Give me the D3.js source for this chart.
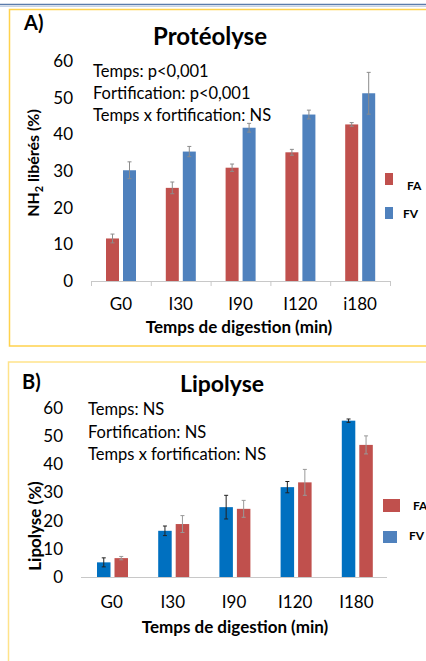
<!DOCTYPE html>
<html><head><meta charset="utf-8">
<script src="https://cdn.jsdelivr.net/npm/d3@7"></script>
<style>
html,body{margin:0;padding:0;background:#fff;}
svg{display:block;font-family:Lato,"Open Sans",sans-serif;}
</style></head>
<body>
<svg id="c" width="426" height="661"></svg>
<script>
// ---- data ----
const categoriesA = ["G0","I30","I90","I120","i180"];
const categoriesB = ["G0","I30","I90","I120","I180"];
const yTicks = [0,10,20,30,40,50,60];
// Panel A: Protéolyse (NH2 libérés %)
const protFA = [11.6, 25.4, 30.9, 35.1, 42.7];
const protFAerr = [1.2, 1.6, 1.0, 0.8, 0.5];
const protFV = [30.2, 35.3, 41.8, 45.4, 51.2];
const protFVerr = [2.3, 1.4, 1.2, 1.2, 5.7];
// Panel B: Lipolyse (%)
const lipoFV = [5.2, 16.4, 24.8, 31.9, 55.5];
const lipoFVerr = [1.6, 1.7, 4.2, 2.0, 0.6];
const lipoFA = [6.7, 18.8, 24.2, 33.6, 46.9];
const lipoFAerr = [0.6, 3.0, 3.0, 4.6, 3.2];
const annotA = ["Temps: p<0,001","Fortification: p<0,001","Temps x fortification: NS"];
const annotB = ["Temps: NS","Fortification: NS","Temps x fortification: NS"];

const svg = d3.select("#c");

// top decoration line
svg.append("line").attr("x1",0).attr("x2",426).attr("y1",4.5).attr("y2",4.5).attr("stroke","#5b7cab").attr("stroke-width",1.5);
svg.append("line").attr("x1",0).attr("x2",426).attr("y1",6.5).attr("y2",6.5).attr("stroke","#c5d3e6").attr("stroke-width",1);

// panel borders
svg.append("path").attr("d","M440,9.5 H9.5 V346 H440").attr("fill","none").attr("stroke","#ffd24d").attr("stroke-width",1.5);
svg.append("path").attr("d","M440,362 H8.5 V680").attr("fill","none").attr("stroke","#ffe38a").attr("stroke-width",1.5);

function panel(cfg){
  const g = svg.append("g");
  const x = d3.scaleBand().domain(cfg.cats).range(cfg.xr);
  const sub = d3.scaleBand().domain(cfg.series.map(s=>s.name)).range(cfg.subr).paddingInner(cfg.subpad);
  const y = d3.scaleLinear().domain([0,60]).range(cfg.yr);

  // y axis labels
  const ya = d3.axisLeft(y).tickValues(yTicks).tickSize(0).tickPadding(0);
  const yg = g.append("g").attr("transform",`translate(${cfg.yLabelX},0)`).call(ya);
  yg.select(".domain").remove();
  yg.selectAll("text").attr("font-size",17).attr("fill","#000").attr("font-family","Lato,sans-serif");

  // x axis line
  g.append("line").attr("x1",cfg.xr[0]).attr("x2",cfg.xr[1]).attr("y1",y(0)+0.5).attr("y2",y(0)+0.5).attr("stroke","#c8c8c8").attr("stroke-width",1);
  if(cfg.boundaryTicks){
    const b = cfg.cats.map(c=>x(c)).concat([x(cfg.cats[cfg.cats.length-1])+x.bandwidth()]);
    g.selectAll(".bt").data(b).join("line").attr("x1",d=>d+0.5).attr("x2",d=>d+0.5)
      .attr("y1",y(0)).attr("y2",y(0)+5).attr("stroke","#c8c8c8");
  }
  const xa = d3.axisBottom(x).tickSize(0).tickPadding(0);
  const xg = g.append("g").attr("transform",`translate(0,${cfg.xLabelY})`).call(xa);
  xg.select(".domain").remove();
  xg.selectAll("text").attr("font-size",17).attr("fill","#000").attr("dy",0).attr("font-family","Lato,sans-serif");

  // bars
  cfg.series.forEach(s=>{
    const gs = g.append("g");
    gs.selectAll("rect").data(cfg.cats).join("rect")
      .attr("x",(c)=>x(c)+sub(s.name)).attr("width",sub.bandwidth())
      .attr("y",(c,i)=>y(s.values[i])).attr("height",(c,i)=>y(0)-y(s.values[i]))
      .attr("fill",s.color);
    const eb = gs.selectAll("g.eb").data(cfg.cats).join("g").attr("stroke",s.errColor).attr("stroke-width",1);
    eb.append("line").attr("x1",(c)=>x(c)+sub(s.name)+sub.bandwidth()/2).attr("x2",(c)=>x(c)+sub(s.name)+sub.bandwidth()/2)
      .attr("y1",(c,i)=>y(s.values[i]+s.err[i])).attr("y2",(c,i)=>y(s.values[i]-s.err[i]));
    [1,-1].forEach(k=>{
      eb.append("line").attr("x1",(c)=>x(c)+sub(s.name)+sub.bandwidth()/2-2).attr("x2",(c)=>x(c)+sub(s.name)+sub.bandwidth()/2+2)
        .attr("y1",(c,i)=>y(s.values[i]+k*s.err[i])).attr("y2",(c,i)=>y(s.values[i]+k*s.err[i]));
    });
  });

  // titles
  g.append("text").attr("x",cfg.letter[0]).attr("y",cfg.letter[1]).text(cfg.letterText).attr("font-size",20).attr("font-weight","bold");
  g.append("text").attr("x",cfg.title[0]).attr("y",cfg.title[1]).attr("text-anchor","middle").text(cfg.titleText).attr("font-size",cfg.titleSize).attr("font-weight","bold");
  g.append("text").attr("x",cfg.xTitle[0]).attr("y",cfg.xTitle[1]).attr("text-anchor","middle").text("Temps de digestion (min)").attr("font-size",17).attr("font-weight","bold");
  const yt = g.append("text").attr("transform",`translate(${cfg.yTitle[0]},${cfg.yTitle[1]}) rotate(-90)`).attr("text-anchor","middle").attr("font-size",cfg.yTitleSize).attr("font-weight","bold");
  cfg.yTitleParts(yt);

  // annotations
  g.selectAll(".an").data(cfg.annot).join("text").attr("x",cfg.annotX).attr("y",(d,i)=>cfg.annotY+i*cfg.annotDy)
    .text(d=>d).attr("font-size",16.5);

  // legend
  cfg.legend.forEach(l=>{
    g.append("rect").attr("x",l.r[0]).attr("y",l.r[1]).attr("width",l.r[2]).attr("height",l.r[3]).attr("fill",l.color);
    g.append("text").attr("x",l.t[0]).attr("y",l.t[1]).text(l.name).attr("font-size",12).attr("font-weight","bold");
  });
}

panel({
  cats: categoriesA, xr:[91,390], subr:[15,45], subpad:4/17, yr:[281,61], yLabelX:73, xLabelY:310,
  boundaryTicks:true,
  series:[{name:"FA",values:protFA,err:protFAerr,color:"#c0504d",errColor:"#8c8c8c"},
          {name:"FV",values:protFV,err:protFVerr,color:"#4f81bd",errColor:"#8c8c8c"}],
  letter:[24,30], letterText:"A)", title:[210,45], titleText:"Protéolyse", titleSize:24,
  xTitle:[239,333], yTitle:[39,163], yTitleSize:16,
  yTitleParts: t=>{ t.append("tspan").text("NH"); t.append("tspan").text("2").attr("font-size",11).attr("dy",4);
                    t.append("tspan").text(" libérés  (%)").attr("dy",-4); },
  annot:annotA, annotX:93, annotY:77, annotDy:22,
  legend:[{name:"FA",color:"#c0504d",r:[385,173,8,12],t:[407,190]},
          {name:"FV",color:"#4f81bd",r:[385,207,8,12],t:[403,217.5]}]
});

panel({
  cats: categoriesB, xr:[81,387], subr:[16,47], subpad:4/17.5, yr:[577,408], yLabelX:63, xLabelY:608,
  boundaryTicks:false,
  series:[{name:"FV",values:lipoFV,err:lipoFVerr,color:"#0070c0",errColor:"#222"},
          {name:"FA",values:lipoFA,err:lipoFAerr,color:"#c0504d",errColor:"#999"}],
  letter:[22,389], letterText:"B)", title:[222,392], titleText:"Lipolyse", titleSize:23,
  xTitle:[235,633], yTitle:[41,526], yTitleSize:17,
  yTitleParts: t=>{ t.text("Lipolyse (%)"); },
  annot:annotB, annotX:88, annotY:415, annotDy:22.5,
  legend:[{name:"FA",color:"#c0504d",r:[383,499,17,13],t:[413,510]},
          {name:"FV",color:"#4f81bd",r:[383,531,14,12],t:[409,540]}]
});
</script>
</body></html>
